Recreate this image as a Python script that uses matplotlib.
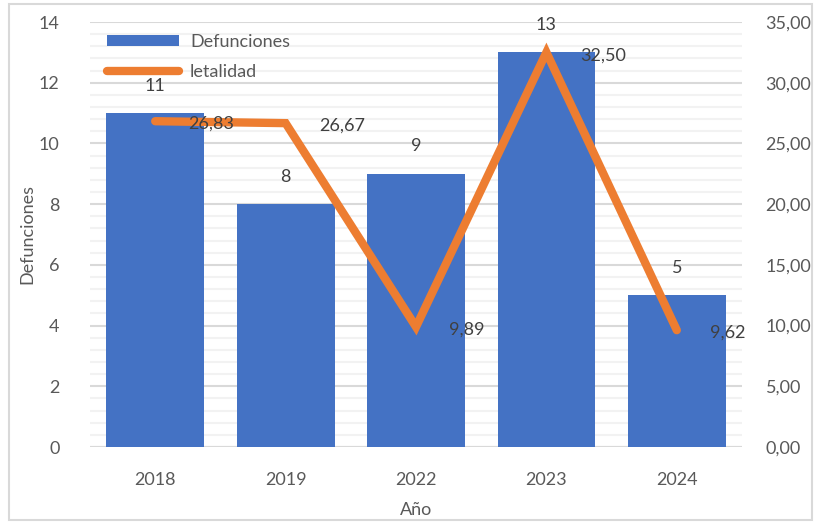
import matplotlib
matplotlib.use("Agg")
import matplotlib.pyplot as plt
from matplotlib.ticker import MultipleLocator, FuncFormatter
from matplotlib.patches import Rectangle

years = ["2018", "2019", "2022", "2023", "2024"]
defunciones = [11, 8, 9, 13, 5]
letalidad = [26.83, 26.67, 9.89, 32.50, 9.62]

BLUE = "#4472C4"
ORANGE = "#ED7D31"
TXT = "#595959"
LBL = "#404040"
FONT = ["Lato", "DejaVu Sans"]
plt.rcParams["font.family"] = FONT
FS = 13

fig = plt.figure(figsize=(8.14, 5.22), dpi=100)
fig.patches.append(Rectangle((9/814, 1 - 520/522), 803/814, 516/522, transform=fig.transFigure,
                             fill=False, edgecolor="#D9D9D9", linewidth=1.5))

ax = fig.add_axes([90/814, 1 - 447/522, 652/814, 425/522])
ax2 = ax.twinx()

x = list(range(len(years)))
bars = ax.bar(x, defunciones, width=0.75, color=BLUE, label="Defunciones", zorder=2)
ax.set_xlim(-0.5, len(years) - 0.5)
ax.set_ylim(0, 14)
ax.yaxis.set_major_locator(MultipleLocator(2))
ax.yaxis.set_minor_locator(MultipleLocator(0.4))
ax.set_axisbelow(True)
ax.grid(axis="y", which="major", color="#D9D9D9", linewidth=1.5, zorder=0)
ax.grid(axis="y", which="minor", color="#F2F2F2", linewidth=1.5, zorder=0)
ax.set_xticks(x)
ax.set_xticklabels(years)
for s in ax.spines.values():
    s.set_visible(False)
for s in ax2.spines.values():
    s.set_visible(False)
ax.axhline(0, color="#D9D9D9", linewidth=1.5, zorder=1)
ax.tick_params(axis="both", which="both", length=0, labelsize=FS, labelcolor=TXT)
ax.tick_params(axis="y", pad=22)
ax.tick_params(axis="x", pad=18)
ax.set_ylabel("Defunciones", fontsize=FS, color=TXT, labelpad=2)
ax.set_xlabel("Año", fontsize=FS, color=TXT, labelpad=10)

for xi, v in zip(x, defunciones):
    ax.annotate(str(v), (xi, v), xytext=(0, 14), textcoords="offset points",
                ha="center", va="bottom", fontsize=FS, color=LBL)

line, = ax2.plot(x, letalidad, color=ORANGE, linewidth=6, solid_capstyle="round",
                 solid_joinstyle="miter", label="letalidad", zorder=3)
ax2.set_ylim(0, 35)
ax2.yaxis.set_major_locator(MultipleLocator(5))
ax2.yaxis.set_major_formatter(FuncFormatter(lambda v, p: f"{v:.2f}".replace(".", ",")))
ax2.tick_params(axis="y", length=0, labelsize=FS, labelcolor=TXT, pad=17)

for xi, v in zip(x, letalidad):
    ax2.annotate(f"{v:.2f}".replace(".", ","), (xi, v), xytext=(24, -2), textcoords="offset points",
                 ha="left", va="center", fontsize=FS, color=LBL, zorder=5)

leg = ax2.legend([bars, line], ["Defunciones", "letalidad"], loc="upper left",
                 bbox_to_anchor=(107/814, 1 - 34/522), bbox_transform=fig.transFigure,
                 frameon=False, fontsize=FS, handlelength=4.0, handleheight=0.55,
                 handletextpad=0.6, labelspacing=0.75, borderpad=0, borderaxespad=0)
for t in leg.get_texts():
    t.set_color(TXT)

fig.savefig("out.png", dpi=100)
